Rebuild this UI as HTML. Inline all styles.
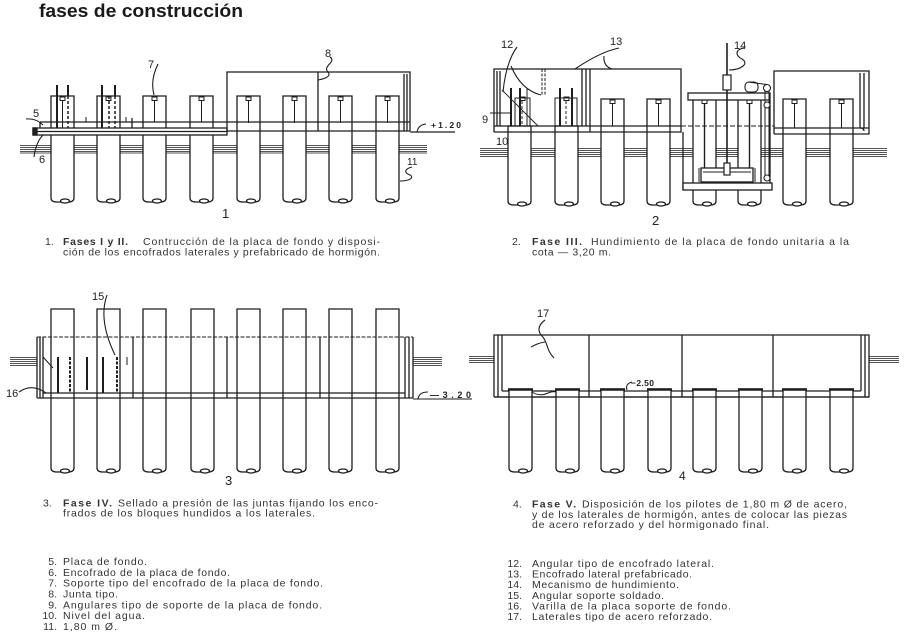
<!DOCTYPE html>
<html><head><meta charset="utf-8"><style>
html,body{margin:0;padding:0;background:#fff;}
svg{display:block;}
text{font-family:"Liberation Sans",Arial,sans-serif;}
</style></head><body>
<svg width="908" height="633" viewBox="0 0 908 633" xmlns="http://www.w3.org/2000/svg">
<rect width="908" height="633" fill="#fff"/>

<!-- TITLE -->
<text x="39" y="17" font-size="18.6" font-weight="bold" fill="#1a1a1a" textLength="204" lengthAdjust="spacingAndGlyphs">fases de construcción</text>

<!-- WATER BANDS -->
<g stroke="#555" stroke-width="0.9" fill="none">
 <path d="M20,145.5H427M20,147.5H427M20,149.5H427M20,151.5H427M20,153H427"/>
 <path d="M480,148.5H887M480,150.5H887M480,152.5H887M480,154.5H887M480,156.5H887"/>
 <path d="M10,357.5H37M10,359.5H37M10,361.5H37M10,363.5H37M10,365.5H37"/>
 <path d="M413,357.5H442M413,359.5H442M413,361.5H442M413,363.5H442M413,365.5H442"/>
 <path d="M469,356.5H494M469,358.5H494M469,360.5H494M469,362.5H494"/>
 <path d="M869,356.5H899M869,358.5H899M869,360.5H899M869,362.5H899"/>
</g>

<!-- ================= DIAGRAM 1 ================= -->
<g fill="#fff" stroke="#1e1e1e" stroke-width="1.3">
 <path d="M51,198V96H74V198Q74,202 68,202H57Q51,202 51,198Z"/>
 <path d="M97,198V96H120V198Q120,202 114,202H103Q97,202 97,198Z"/>
 <path d="M143,198V96H166V198Q166,202 160,202H149Q143,202 143,198Z"/>
 <path d="M190,198V96H213V198Q213,202 207,202H196Q190,202 190,198Z"/>
 <path d="M237,198V96H260V198Q260,202 254,202H243Q237,202 237,198Z"/>
 <path d="M283,198V96H306V198Q306,202 300,202H289Q283,202 283,198Z"/>
 <path d="M329,198V96H352V198Q352,202 346,202H335Q329,202 329,198Z"/>
 <path d="M376,198V96H399V198Q399,202 393,202H382Q376,202 376,198Z"/>
 <ellipse cx="65" cy="201" rx="4.5" ry="2"/>
 <ellipse cx="111" cy="201" rx="4.5" ry="2"/>
 <ellipse cx="157" cy="201" rx="4.5" ry="2"/>
 <ellipse cx="204" cy="201" rx="4.5" ry="2"/>
 <ellipse cx="251" cy="201" rx="4.5" ry="2"/>
 <ellipse cx="297" cy="201" rx="4.5" ry="2"/>
 <ellipse cx="343" cy="201" rx="4.5" ry="2"/>
 <ellipse cx="390" cy="201" rx="4.5" ry="2"/>
</g>
<g stroke="#1e1e1e" stroke-width="1.3" fill="none">
 <path d="M40,122H410M40,122V128M132,118V128"/>
 <rect x="33" y="128" width="194" height="7" fill="#fff"/>
 <path d="M37,131.5H227"/>
 <rect x="33" y="128" width="4" height="7" fill="#1e1e1e"/>
 <path d="M227,131H410M227,131V72H410V131M318,72V131M404,74V131M407,74V131M410,132H455"/>
 <g stroke-width="1">
  <rect x="60" y="97" width="5" height="3.5"/><rect x="106" y="97" width="5" height="3.5"/>
  <rect x="152" y="97" width="5" height="3.5"/><rect x="199" y="97" width="5" height="3.5"/>
  <rect x="246" y="97" width="5" height="3.5"/><rect x="292" y="97" width="5" height="3.5"/>
  <rect x="338" y="97" width="5" height="3.5"/><rect x="385" y="97" width="5" height="3.5"/>
  <path d="M154.5,100.5V122M201.5,100.5V122M248.5,100.5V123M294.5,100.5V123M340.5,100.5V123M387.5,100.5V123M62.5,100.5V128M86,117V122M126,117V122"/>
 </g>
 <path stroke-width="2" d="M57,85V128M68,85V96M102,85V128M115,85V96"/>
 <path stroke-width="1.5" stroke-dasharray="3 2" d="M68,96V128M109,96V128M115,96V128"/>
 <path stroke-width="1.1" d="M158,64Q150,80 154,95M330,57C337,62 322,66 328,72C332,77 323,79 318,80M26,119Q36,118 43,125M34,157Q36,142 43,135M412,167C404,169 404,173 410,175C414,177 411,181 400,181M417,132Q418,125 426,124"/>
</g>
<g fill="#222" font-size="11">
 <text x="33" y="117">5</text>
 <text x="39" y="163">6</text>
 <text x="148" y="68">7</text>
 <text x="325" y="57">8</text>
 <text x="407" y="165" font-size="10">11</text>
 <text x="222" y="218" font-size="13">1</text>
 <text x="431" y="128" font-size="8.5" font-weight="bold" textLength="30" lengthAdjust="spacing">+1.20</text>
</g>

<!-- ================= DIAGRAM 2 ================= -->
<g fill="#fff" stroke="#1e1e1e" stroke-width="1.3">
 <path d="M508,201V126H531V201Q531,205 525,205H514Q508,205 508,201Z"/>
 <path d="M555,201V126H578V201Q578,205 572,205H561Q555,205 555,201Z"/>
 <path d="M601,201V99H624V201Q624,205 618,205H607Q601,205 601,201Z"/>
 <path d="M647,201V99H670V201Q670,205 664,205H653Q647,205 647,201Z"/>
 <path d="M693,201V99H716V201Q716,205 710,205H699Q693,205 693,201Z"/>
 <path d="M738,201V99H761V201Q761,205 755,205H744Q738,205 738,201Z"/>
 <path d="M783,201V99H806V201Q806,205 800,205H789Q783,205 783,201Z"/>
 <path d="M830,201V99H853V201Q853,205 847,205H836Q830,205 830,201Z"/>
 <ellipse cx="522" cy="204" rx="4.5" ry="2"/>
 <ellipse cx="569" cy="204" rx="4.5" ry="2"/>
 <ellipse cx="615" cy="204" rx="4.5" ry="2"/>
 <ellipse cx="661" cy="204" rx="4.5" ry="2"/>
 <ellipse cx="707" cy="204" rx="4.5" ry="2"/>
 <ellipse cx="752" cy="204" rx="4.5" ry="2"/>
 <ellipse cx="797" cy="204" rx="4.5" ry="2"/>
 <ellipse cx="844" cy="204" rx="4.5" ry="2"/>
</g>
<g stroke="#1e1e1e" stroke-width="1.3" fill="none">
 <path d="M494,132V69H681V132H494M494,126H681M497,71V126M500,71V126M582,69V126M586,69V126M590,69V132"/>
 <path stroke-width="1" stroke-dasharray="3 1.5" d="M542,69V95M545,69V95"/>
 <path stroke-width="1" d="M515,126V98H530V126M555,126V98H577V126M527,88V126"/>
 <path stroke-width="2" d="M511,88V126M520,88V126M560,88V126M572,88V126"/>
 <path stroke-width="1" stroke-dasharray="3 2" d="M566,101V126M522,101V126"/>
 <rect x="520" y="97" width="5" height="3.5" stroke-width="1"/>
 <rect x="564" y="97" width="5" height="3.5" stroke-width="1"/>
 <path stroke-width="1" stroke-dasharray="5 2" d="M681,126H774"/>
 <g stroke-width="1">
  <rect x="610" y="100" width="5" height="3.5"/><rect x="656" y="100" width="5" height="3.5"/>
  <rect x="792" y="100" width="5" height="3.5"/><rect x="839" y="100" width="5" height="3.5"/>
  <rect x="702" y="100" width="5" height="3.5"/><rect x="747" y="100" width="5" height="3.5"/>
  <path d="M612.5,103.5V126M658.5,103.5V126M794.5,103.5V128M841.5,103.5V128"/>
 </g>
 <path stroke-width="1.4" d="M704.5,103.5V168M749.5,103.5V168"/>
 <rect x="688" y="93" width="82" height="7" fill="#fff"/>
 <path d="M683,132V190M770,100V183"/>
 <rect x="683" y="183" width="89" height="7" fill="#fff"/>
 <rect x="701" y="168" width="52" height="14" fill="#fff"/>
 <path stroke-width="1" d="M703,172H751M699,168V182M755,168V182"/>
 <path stroke-width="1.6" d="M727,43V175"/>
 <rect x="723" y="75" width="8" height="15" fill="#fff" stroke-width="1.2"/>
 <rect x="724" y="163" width="6" height="12" fill="#fff" stroke-width="1.2"/>
 <rect x="745" y="82" width="13" height="10" rx="4" fill="#fff" stroke-width="1.1"/>
 <path stroke-width="1" d="M765,88V178M769,88V178M748,82L767,84.5"/>
 <circle cx="767" cy="88" r="3.5" fill="#fff" stroke-width="1.1"/>
 <circle cx="767" cy="105" r="3" fill="#fff" stroke-width="1.1"/>
 <circle cx="767" cy="178" r="3" fill="#fff" stroke-width="1.1"/>
 <path d="M774,134V71H869V134H774M774,128H869M860,73V128M864,73V128M860,128Q864,128 864,131"/>
 <path stroke-width="1.1" d="M517,47Q506,62 503,92M511,66Q521,90 541,95M619,48Q600,52 575,69M604,56Q603,66 612,69M490,113H512M744,48C734,50 736,56 742,59C750,64 740,70 729,70"/>
 <path stroke-width="0.9" d="M502,90L538,126"/>
</g>
<g fill="#222" font-size="11">
 <text x="501" y="48">12</text>
 <text x="610" y="45">13</text>
 <text x="734" y="49">14</text>
 <text x="482" y="123">9</text>
 <text x="496" y="145">10</text>
 <text x="652" y="225" font-size="13">2</text>
</g>

<!-- ================= DIAGRAM 3 ================= -->
<g fill="#fff" stroke="#1e1e1e" stroke-width="1.3">
 <path d="M51,468V309H74V468Q74,472 68,472H57Q51,472 51,468Z"/>
 <path d="M97,468V309H120V468Q120,472 114,472H103Q97,472 97,468Z"/>
 <path d="M143,468V309H166V468Q166,472 160,472H149Q143,472 143,468Z"/>
 <path d="M191,468V309H214V468Q214,472 208,472H197Q191,472 191,468Z"/>
 <path d="M237,468V309H260V468Q260,472 254,472H243Q237,472 237,468Z"/>
 <path d="M283,468V309H306V468Q306,472 300,472H289Q283,472 283,468Z"/>
 <path d="M329,468V309H352V468Q352,472 346,472H335Q329,472 329,468Z"/>
 <path d="M376,468V309H399V468Q399,472 393,472H382Q376,472 376,468Z"/>
 <ellipse cx="65" cy="471" rx="4.5" ry="2"/>
 <ellipse cx="111" cy="471" rx="4.5" ry="2"/>
 <ellipse cx="157" cy="471" rx="4.5" ry="2"/>
 <ellipse cx="205" cy="471" rx="4.5" ry="2"/>
 <ellipse cx="251" cy="471" rx="4.5" ry="2"/>
 <ellipse cx="297" cy="471" rx="4.5" ry="2"/>
 <ellipse cx="343" cy="471" rx="4.5" ry="2"/>
 <ellipse cx="390" cy="471" rx="4.5" ry="2"/>
</g>
<g stroke="#1e1e1e" stroke-width="1.3" fill="none">
 <path stroke-width="1" stroke-dasharray="4 1.5" d="M37,337H413"/>
 <path d="M37,337V398M40,337V398M43,337V398M405,337V398M409,337V398M413,337V398M37,398H413M43,393H405M133,337V398M227,337V398M320,337V398"/>
 <path stroke-width="2" d="M58,357V393M87,357V390M103,357V393"/>
 <path stroke-width="2" stroke-dasharray="3 1.5" d="M70,357V393M117,357V393"/>
 <path stroke-width="1" d="M127,357V365M43,357L53,368"/>
 <path stroke-width="1.1" d="M107,295Q98,320 115,355M19,392Q32,383 46,393M418,399Q419,392 428,392M413,399H472"/>
</g>
<g fill="#222" font-size="11">
 <text x="92" y="300">15</text>
 <text x="6" y="397">16</text>
 <text x="430" y="398" font-size="9" font-weight="bold" textLength="41" lengthAdjust="spacing">—3.20</text>
 <text x="225" y="485" font-size="13">3</text>
</g>

<!-- ================= DIAGRAM 4 ================= -->
<g stroke="#1e1e1e" stroke-width="1.3" fill="none">
 <path d="M494,397V335H869V397H494M498,335V397M502,335V391M861,335V391M865,335V397M502,391H861M589,335V397M682,335V397M773,335V397"/>
</g>
<g fill="#fff" stroke="#1e1e1e" stroke-width="1.3">
 <path d="M509,468V389H532V468Q532,472 526,472H515Q509,472 509,468Z"/>
 <path d="M556,468V389H579V468Q579,472 573,472H562Q556,472 556,468Z"/>
 <path d="M601,468V389H624V468Q624,472 618,472H607Q601,472 601,468Z"/>
 <path d="M648,468V389H671V468Q671,472 665,472H654Q648,472 648,468Z"/>
 <path d="M693,468V389H716V468Q716,472 710,472H699Q693,472 693,468Z"/>
 <path d="M739,468V389H762V468Q762,472 756,472H745Q739,472 739,468Z"/>
 <path d="M783,468V389H806V468Q806,472 800,472H789Q783,472 783,468Z"/>
 <path d="M830,468V389H853V468Q853,472 847,472H836Q830,472 830,468Z"/>
 <ellipse cx="523" cy="471" rx="4.5" ry="2"/>
 <ellipse cx="570" cy="471" rx="4.5" ry="2"/>
 <ellipse cx="615" cy="471" rx="4.5" ry="2"/>
 <ellipse cx="662" cy="471" rx="4.5" ry="2"/>
 <ellipse cx="707" cy="471" rx="4.5" ry="2"/>
 <ellipse cx="753" cy="471" rx="4.5" ry="2"/>
 <ellipse cx="797" cy="471" rx="4.5" ry="2"/>
 <ellipse cx="844" cy="471" rx="4.5" ry="2"/>
</g>
<g stroke="#1e1e1e" fill="none">
 <path stroke-width="2.4" d="M508,389.5H533M555,389.5H580M600,389.5H625M647,389.5H672M692,389.5H717M738,389.5H763M782,389.5H807M829,389.5H854"/>
 <path stroke-width="1.3" d="M494,397H869"/>
 <path stroke-width="1" d="M532,392Q540,397 548,393Q553,391 556,392"/>
 <path stroke-width="1.1" d="M545,320C537,326 538,332 542,336C548,342 546,350 554,358M531,347Q538,343 545,342M632,382Q625,384 627,390"/>
</g>
<g fill="#222" font-size="11">
 <text x="537" y="317">17</text>
 <text x="631" y="386" font-size="8.5" font-weight="bold" textLength="23" lengthAdjust="spacing">−2.50</text>
 <text x="679" y="480" font-size="12">4</text>
</g>

<!-- ================= CAPTIONS ================= -->
<g fill="#333" font-size="10.5">
 <text x="45" y="245">1.</text>
 <text x="63" y="245" font-weight="bold" textLength="65" lengthAdjust="spacing">Fases I y II.</text>
 <text x="143" y="245" textLength="237" lengthAdjust="spacing">Contrucción de la placa de fondo y disposi-</text>
 <text x="63" y="255.5" textLength="317" lengthAdjust="spacing">ción de los encofrados laterales y prefabricado de hormigón.</text>

 <text x="512" y="245">2.</text>
 <text x="532" y="245" font-weight="bold" textLength="50" lengthAdjust="spacing">Fase III.</text>
 <text x="591" y="245" textLength="258" lengthAdjust="spacing">Hundimiento de la placa de fondo unitaria a la</text>
 <text x="532" y="255.5" textLength="79" lengthAdjust="spacing">cota — 3,20 m.</text>

 <text x="43" y="506.5">3.</text>
 <text x="63" y="506.5" font-weight="bold" textLength="49" lengthAdjust="spacing">Fase IV.</text>
 <text x="118" y="506.5" textLength="260" lengthAdjust="spacing">Sellado a presión de las juntas fijando los enco-</text>
 <text x="63" y="516.5" textLength="252" lengthAdjust="spacing">frados de los bloques hundidos a los laterales.</text>

 <text x="513" y="507.5">4.</text>
 <text x="532" y="507.5" font-weight="bold" textLength="44" lengthAdjust="spacing">Fase V.</text>
 <text x="582" y="507.5" textLength="265" lengthAdjust="spacing">Disposición de los pilotes de 1,80 m Ø de acero,</text>
 <text x="532" y="517.8" textLength="315" lengthAdjust="spacing">y de los laterales de hormigón, antes de colocar las piezas</text>
 <text x="532" y="528" textLength="237" lengthAdjust="spacing">de acero reforzado y del hormigonado final.</text>
</g>

<!-- ================= LEGENDS ================= -->
<g fill="#333" font-size="10.5">
 <g text-anchor="end">
  <text x="57" y="565">5.</text>
  <text x="57" y="575.8">6.</text>
  <text x="57" y="586.7">7.</text>
  <text x="57" y="597.5">8.</text>
  <text x="57" y="608.3">9.</text>
  <text x="57" y="619.2">10.</text>
  <text x="57" y="630">11.</text>
  <text x="522" y="567">12.</text>
  <text x="522" y="577.6">13.</text>
  <text x="522" y="588.2">14.</text>
  <text x="522" y="598.8">15.</text>
  <text x="522" y="609.4">16.</text>
  <text x="522" y="620">17.</text>
 </g>
 <text x="63" y="565" textLength="84" lengthAdjust="spacing">Placa de fondo.</text>
 <text x="63" y="575.8" textLength="167" lengthAdjust="spacing">Encofrado de la placa de fondo.</text>
 <text x="63" y="586.7" textLength="260" lengthAdjust="spacing">Soporte tipo del encofrado de la placa de fondo.</text>
 <text x="63" y="597.5" textLength="55" lengthAdjust="spacing">Junta tipo.</text>
 <text x="63" y="608.3" textLength="259" lengthAdjust="spacing">Angulares tipo de soporte de la placa de fondo.</text>
 <text x="63" y="619.2" textLength="82" lengthAdjust="spacing">Nivel del agua.</text>
 <text x="63" y="630" textLength="54" lengthAdjust="spacing">1,80 m Ø.</text>

 <text x="532" y="567" textLength="182" lengthAdjust="spacing">Angular tipo de encofrado lateral.</text>
 <text x="532" y="577.6" textLength="160" lengthAdjust="spacing">Encofrado lateral prefabricado.</text>
 <text x="532" y="588.2" textLength="147" lengthAdjust="spacing">Mecanismo de hundimiento.</text>
 <text x="532" y="598.8" textLength="132" lengthAdjust="spacing">Angular soporte soldado.</text>
 <text x="532" y="609.4" textLength="199" lengthAdjust="spacing">Varilla de la placa soporte de fondo.</text>
 <text x="532" y="620" textLength="180" lengthAdjust="spacing">Laterales tipo de acero reforzado.</text>
</g>
</svg>
</body></html>
